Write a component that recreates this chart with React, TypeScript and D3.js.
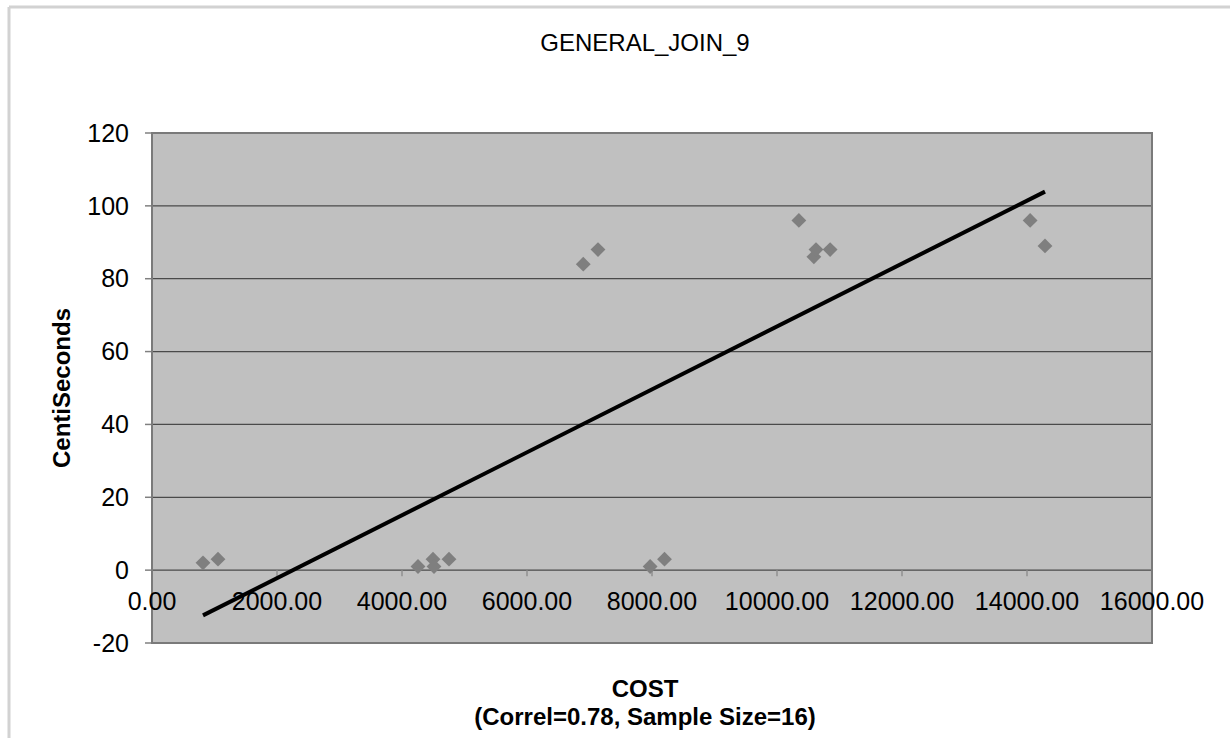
import React from "react";
import * as d3 from "d3";

const costs = [816, 1056, 4256, 4496, 4512, 4752, 6900, 7136, 7970, 8200, 10350, 10590, 10624, 10850, 14050, 14288];
const centiSeconds = [2, 3, 1, 3, 1, 3, 84, 88, 1, 3, 96, 86, 88, 88, 96, 89];
const xTicks = [0, 2000, 4000, 6000, 8000, 10000, 12000, 14000, 16000];
const yTicks = [-20, 0, 20, 40, 60, 80, 100, 120];
const titleText = "GENERAL_JOIN_9";
const yTitle = "CentiSeconds";
const xTitle1 = "COST";
const xTitle2 = "(Correl=0.78, Sample Size=16)";

const W = 1230, H = 738;
const PL = 152, PR = 1152, PT = 133, PB = 643;
const FONT = "'Liberation Sans', Arial, sans-serif";

export default function App() {
  const x = d3.scaleLinear().domain([0, 16000]).range([PL, PR]);
  const y = d3.scaleLinear().domain([-20, 120]).range([PB, PT]);
  const pts = costs.map((c, i) => ({ c, v: centiSeconds[i] }));
  const mx = d3.mean(costs)!, my = d3.mean(centiSeconds)!;
  let sxy = 0, sxx = 0;
  pts.forEach(p => { sxy += (p.c - mx) * (p.v - my); sxx += (p.c - mx) ** 2; });
  const slope = sxy / sxx, icpt = my - slope * mx;
  const [xmin, xmax] = d3.extent(costs) as [number, number];
  const line = d3.line<number>().x(d => x(d)).y(d => y(icpt + slope * d));
  const diamond = d3.symbol().type(d3.symbolDiamond2).size(140)();

  return (
    <svg width={W} height={H} style={{ position: "absolute", left: 0, top: 0, display: "block", background: "#fff" }} fontFamily={FONT}>
      <rect x={0} y={0} width={W} height={H} fill="#fff" />
      <line x1={9} y1={7} x2={W} y2={7} stroke="#d2d2d2" strokeWidth={3} />
      <line x1={9} y1={7} x2={9} y2={H} stroke="#d2d2d2" strokeWidth={3} />
      <text x={645} y={51} textAnchor="middle" fontSize={24} fill="#000">{titleText}</text>
      <rect x={PL} y={PT} width={PR - PL} height={PB - PT} fill="#c0c0c0" />
      {yTicks.filter(t => t > -20 && t < 120).map(t => (
        <line key={"g" + t} x1={PL} x2={PR} y1={y(t)} y2={y(t)} stroke="#4a4a4a" strokeWidth={1.2} />
      ))}
      {yTicks.map(t => (
        <g key={"yt" + t}>
          <line x1={PL - 7} x2={PL} y1={y(t)} y2={y(t)} stroke="#808080" strokeWidth={1.5} />
          <text x={129} y={y(t)} dy="0.35em" textAnchor="end" fontSize={25} fill="#000">{t}</text>
        </g>
      ))}
      {xTicks.map(t => (
        <line key={"xt" + t} x1={x(t)} x2={x(t)} y1={y(0)} y2={y(0) + 6} stroke="#909090" strokeWidth={1.5} />
      ))}
      <rect x={PL} y={PT} width={PR - PL} height={PB - PT} fill="none" stroke="#7a7a7a" strokeWidth={2} />
      {xTicks.map(t => (
        <text key={"xl" + t} x={x(t)} y={y(0) + 31} dy="0.35em" textAnchor="middle" fontSize={25} fill="#000">{t.toFixed(2)}</text>
      ))}
      {pts.map((p, i) => (
        <path key={i} d={diamond!} transform={`translate(${x(p.c)},${y(p.v)})`} fill="#7f7f7f" />
      ))}
      <path d={line([xmin, xmax])!} stroke="#000" strokeWidth={4} fill="none" />
      <text transform={`translate(70,388) rotate(-90)`} textAnchor="middle" fontSize={24} fontWeight="bold" fill="#000">{yTitle}</text>
      <text x={645} y={697} textAnchor="middle" fontSize={24} fontWeight="bold" fill="#000">{xTitle1}</text>
      <text x={645} y={725} textAnchor="middle" fontSize={24} fontWeight="bold" fill="#000">{xTitle2}</text>
    </svg>
  );
}
